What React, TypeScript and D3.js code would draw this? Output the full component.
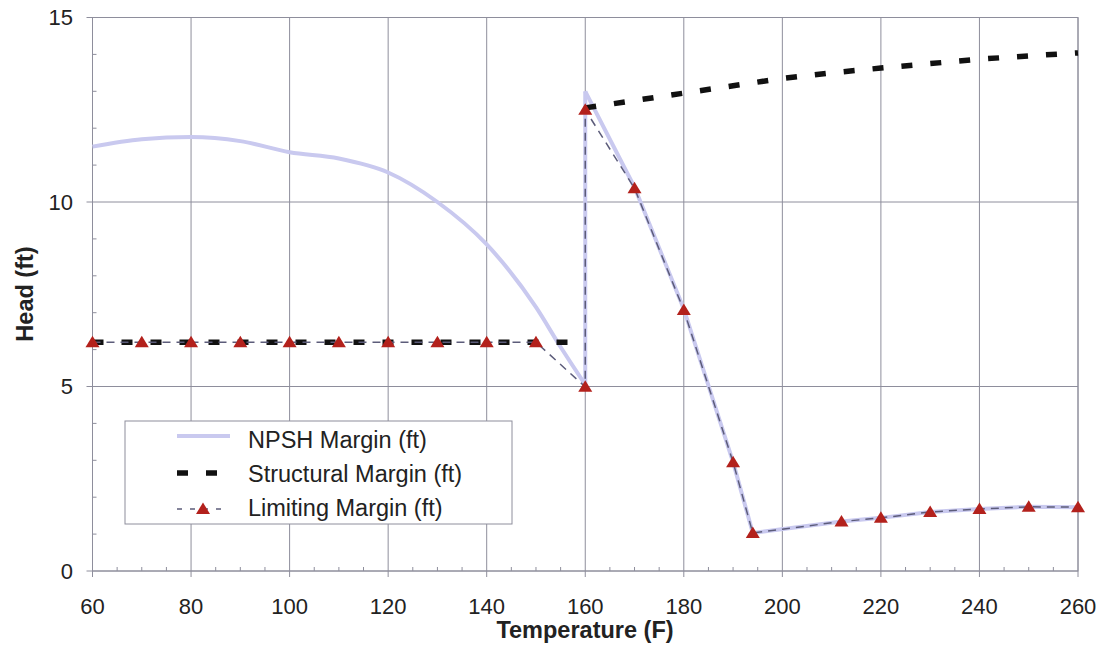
import React from "react";
import * as d3 from "d3";

const xTicks = [60, 80, 100, 120, 140, 160, 180, 200, 220, 240, 260];
const yTicks = [0, 5, 10, 15];

// NPSH Margin (ft)
const npshT = [60, 70, 80, 90, 100, 110, 120, 130, 140, 150, 155, 160, 160, 170, 180, 190, 194, 212, 220, 230, 240, 250, 260];
const npshV = [11.5, 11.7, 11.76, 11.65, 11.35, 11.18, 10.8, 10.0, 8.85, 7.15, 6.07, 5.05, 13.0, 10.4, 7.1, 2.95, 1.03, 1.34, 1.44, 1.6, 1.68, 1.74, 1.73];

// Structural Margin (ft), two pieces
const struct1T = [60, 70, 80, 90, 100, 110, 120, 130, 140, 150, 160];
const struct1V = [6.2, 6.2, 6.2, 6.2, 6.2, 6.2, 6.2, 6.2, 6.2, 6.2, 6.2];
const struct2T = [160, 170, 180, 190, 200, 210, 220, 230, 240, 250, 260];
const struct2V = [12.55, 12.75, 12.95, 13.15, 13.35, 13.5, 13.63, 13.75, 13.87, 13.96, 14.04];

// Limiting Margin (ft)
const limT = [60, 70, 80, 90, 100, 110, 120, 130, 140, 150, 160, 160, 170, 180, 190, 194, 212, 220, 230, 240, 250, 260];
const limV = [6.2, 6.2, 6.2, 6.2, 6.2, 6.2, 6.2, 6.2, 6.2, 6.2, 4.99, 12.5, 10.37, 7.07, 2.95, 1.03, 1.34, 1.44, 1.6, 1.68, 1.74, 1.73];

const W = 1106, H = 663;
const L = 92.5, R = 1078, T = 17.5, B = 571;

export default function App() {
  const x = d3.scaleLinear().domain([60, 260]).range([L, R]);
  const y = d3.scaleLinear().domain([0, 15]).range([B, T]);
  const line = d3.line<[number, number]>().x(d => x(d[0])).y(d => y(d[1]));
  const smooth = d3.line<[number, number]>().x(d => x(d[0])).y(d => y(d[1])).curve(d3.curveMonotoneX);
  const zip = (a: number[], b: number[]) => a.map((t, i) => [t, b[i]] as [number, number]);

  const npshPts = zip(npshT, npshV);
  const npshA = npshPts.slice(0, 12);
  const npshB = npshPts.slice(11, 13);
  const npshC = npshPts.slice(12);

  const minorX = d3.range(60, 261, 5).filter(v => v % 20 !== 0);
  const minorY = d3.range(0, 16, 1).filter(v => v % 5 !== 0);
  const grid = "#8e8e9c";
  const font = "Liberation Sans, Arial, sans-serif";
  const tri = (cx: number, cy: number) => `M${cx},${cy - 6.5}L${cx + 7},${cy + 5}L${cx - 7},${cy + 5}Z`;
  const npshColor = "#c9c9ef";
  const limColor = "#5c5c7a";
  const red = "#b3211c";

  return (
    <svg width={W} height={H} style={{ position: "absolute", left: 0, top: 0, background: "#fff" }} fontFamily={font}>
      {/* grid */}
      {xTicks.map(v => (
        <line key={"gx" + v} x1={x(v)} x2={x(v)} y1={T} y2={B + 6} stroke={grid} strokeWidth={1} />
      ))}
      {yTicks.map(v => (
        <line key={"gy" + v} x1={L - 6} x2={R} y1={y(v)} y2={y(v)} stroke={grid} strokeWidth={1} />
      ))}
      {minorX.map(v => (
        <line key={"mx" + v} x1={x(v)} x2={x(v)} y1={B} y2={B - 4} stroke={grid} strokeWidth={1} />
      ))}
      {minorY.map(v => (
        <line key={"my" + v} x1={L} x2={L + 4} y1={y(v)} y2={y(v)} stroke={grid} strokeWidth={1} />
      ))}
      <rect x={L} y={T} width={R - L} height={B - T} fill="none" stroke={grid} strokeWidth={1} />

      {/* tick labels */}
      {xTicks.map(v => (
        <text key={"tx" + v} x={x(v)} y={614} fontSize={22} textAnchor="middle" fill="#222">{v}</text>
      ))}
      {yTicks.map(v => (
        <text key={"ty" + v} x={73} y={y(v) + 7.5} fontSize={22} textAnchor="end" fill="#222">{v}</text>
      ))}
      <text x={585} y={638} fontSize={23.5} fontWeight="bold" textAnchor="middle" fill="#222">Temperature (F)</text>
      <text transform="translate(33,294) rotate(-90)" fontSize={23.5} fontWeight="bold" textAnchor="middle" fill="#222">Head (ft)</text>

      {/* NPSH */}
      <path d={smooth(npshA) || ""} fill="none" stroke={npshColor} strokeWidth={4} strokeLinejoin="round" />
      <path d={line(npshB) || ""} fill="none" stroke={npshColor} strokeWidth={4} strokeLinejoin="round" />
      <path d={line(npshC) || ""} fill="none" stroke={npshColor} strokeWidth={4} strokeLinejoin="round" />
      {/* Structural */}
      <path d={line(zip(struct1T, struct1V)) || ""} fill="none" stroke="#111" strokeWidth={5.5} strokeDasharray="11,18" />
      <path d={line(zip(struct2T, struct2V)) || ""} fill="none" stroke="#111" strokeWidth={5.5} strokeDasharray="11,18" />
      {/* Limiting */}
      <path d={line(zip(limT, limV)) || ""} fill="none" stroke={limColor} strokeWidth={1.5} strokeDasharray="8,6" />
      {limT.map((t, i) => (
        <path key={"m" + i} d={tri(x(t), y(limV[i]))} fill={red} />
      ))}

      {/* legend */}
      <rect x={125} y={421} width={387} height={103} fill="#fff" stroke={grid} strokeWidth={1} />
      <line x1={177} x2={230} y1={436} y2={436} stroke={npshColor} strokeWidth={4} />
      <line x1={177} x2={220} y1={473} y2={473} stroke="#111" strokeWidth={5.5} strokeDasharray="11,18" />
      <line x1={177} x2={229} y1={509} y2={509} stroke={limColor} strokeWidth={1.5} strokeDasharray="5,8" />
      <path d={tri(203, 509)} fill={red} />
      <text x={248} y={448} fontSize={23.5} fill="#222">NPSH Margin (ft)</text>
      <text x={248} y={482} fontSize={23.5} fill="#222">Structural Margin (ft)</text>
      <text x={248} y={516} fontSize={23.5} fill="#222">Limiting Margin (ft)</text>
    </svg>
  );
}
